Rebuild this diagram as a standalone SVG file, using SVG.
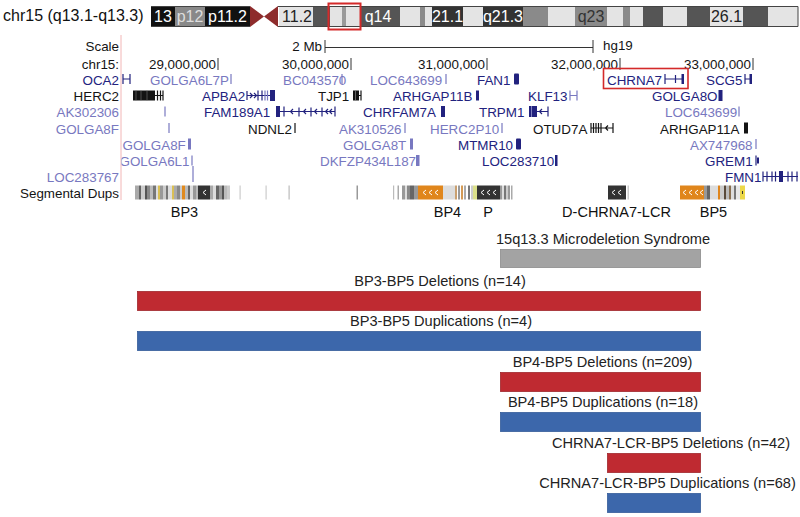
<svg xmlns="http://www.w3.org/2000/svg" width="800" height="517" viewBox="0 0 800 517">
<defs>
<style>
text{font-family:"Liberation Sans",Arial,Helvetica,sans-serif}
.ideo{font-size:16px}
.g{font-size:13.4px}
.dk{fill:#22227e}
.lt{fill:#7878c0}
.bk{fill:#141414}
.sdk{stroke:#22227e;fill:none;stroke-width:1.2}
.slt{stroke:#7878c0;fill:none;stroke-width:1.2}
.sbk{stroke:#141414;fill:none;stroke-width:1.2}
.lab{font-size:14.6px;fill:#222}
.bp{font-size:14.5px;fill:#111;text-anchor:middle}
.chev{stroke:#fff;fill:none;stroke-width:1}
.red{fill:#bf2a31;stroke:#a0272c;stroke-width:0.8}
.blue{fill:#3c67ab;stroke:#355c99;stroke-width:0.8}
.gray{fill:#a3a3a3;stroke:#8c8c8c;stroke-width:0.8}
</style>
<clipPath id="clipL"><rect x="121.5" y="150" width="100" height="20"/></clipPath>
</defs>
<rect width="800" height="517" fill="#fff"/>

<g id="ideogram">
<text x="3" y="21" class="ideo" fill="#111">chr15 (q13.1-q13.3)</text>
<rect x="151" y="6" width="24" height="21" fill="#111"/>
<rect x="175" y="6" width="30" height="21" fill="#898989"/>
<rect x="205" y="6" width="45" height="21" fill="#111"/>
<polygon points="250,6 264,16.5 250,27" fill="#8e2c2c"/>
<polygon points="278,6 264,16.5 278,27" fill="#8e2c2c"/>
<rect x="279" y="6" width="34" height="21" fill="#e4e4e4"/>
<rect x="313" y="6" width="17" height="21" fill="#555"/>
<rect x="330" y="6" width="30" height="21" fill="#e4e4e4"/>
<rect x="342" y="6" width="4" height="21" fill="#9a9a9a"/>
<rect x="360" y="6" width="40" height="21" fill="#555"/>
<rect x="400" y="6" width="20" height="21" fill="#e4e4e4"/>
<rect x="420" y="6" width="5" height="21" fill="#8a8a8a"/>
<rect x="425" y="6" width="7" height="21" fill="#e4e4e4"/>
<rect x="432" y="6" width="31" height="21" fill="#333"/>
<rect x="463" y="6" width="20" height="21" fill="#e4e4e4"/>
<rect x="483" y="6" width="40" height="21" fill="#333"/>
<rect x="523" y="6" width="25" height="21" fill="#8a8a8a"/>
<rect x="548" y="6" width="27" height="21" fill="#e4e4e4"/>
<rect x="575" y="6" width="32" height="21" fill="#8a8a8a"/>
<rect x="607" y="6" width="16" height="21" fill="#e4e4e4"/>
<rect x="623" y="6" width="7" height="21" fill="#8a8a8a"/>
<rect x="630" y="6" width="13" height="21" fill="#e4e4e4"/>
<rect x="643" y="6" width="20" height="21" fill="#555"/>
<rect x="663" y="6" width="24" height="21" fill="#e4e4e4"/>
<rect x="687" y="6" width="23" height="21" fill="#555"/>
<rect x="710" y="6" width="33" height="21" fill="#e4e4e4"/>
<rect x="743" y="6" width="25" height="21" fill="#555"/>
<rect x="768" y="6" width="30" height="21" fill="#e4e4e4"/>
<path d="M151,6.5H250 M278,6.5H798V26.5H278 M250,26.5H151Z" fill="none" stroke="#444" stroke-width="1"/>
<rect x="328.5" y="3.5" width="32" height="26" fill="none" stroke="#d42a2a" stroke-width="2"/>
<g class="ideo" text-anchor="middle">
<text x="163" y="21.5" fill="#fff">13</text>
<text x="190" y="21.5" fill="#ddd">p12</text>
<text x="227.5" y="21.5" fill="#fff">p11.2</text>
<text x="297" y="21.5" fill="#222">11.2</text>
<text x="378" y="21.5" fill="#fff">q14</text>
<text x="447.5" y="21.5" fill="#fff">21.1</text>
<text x="503" y="21.5" fill="#fff">q21.3</text>
<text x="591" y="21.5" fill="#333">q23</text>
<text x="726.5" y="21.5" fill="#222">26.1</text>
</g>
</g>

<g id="ruler">
<line x1="121" y1="35" x2="121" y2="200" stroke="#f2b6b6" stroke-width="1"/>
<g class="g bk" text-anchor="end">
<text x="119" y="51">Scale</text>
<text x="322" y="51">2 Mb</text>
<text x="119" y="69">chr15:</text>
<text x="216" y="69">29,000,000</text>
<text x="349" y="69">30,000,000</text>
<text x="485" y="69">31,000,000</text>
<text x="618" y="69">32,000,000</text>
<text x="751" y="69">33,000,000</text>
</g>
<text x="603" y="49.5" class="g bk">hg19</text>
<path d="M325,40V53 M325,47.5H593 M593,40V53 M218,58V70 M351,58V70 M487,58V70 M620,58V70 M753,58V70" stroke="#333" stroke-width="1" fill="none"/>
</g>

<g id="genes">
<g id="row1" class="g">
<text x="119" y="84.5" class="dk" text-anchor="end">OCA2</text>
<path d="M123,74V84M130,74V84M123,79H130" class="sdk" stroke-width="1.5"/>
<text x="150" y="84.5" class="lt">GOLGA6L7P</text>
<path d="M231,74V84" class="slt"/>
<text x="283" y="84.5" class="lt">BC043570</text>
<path d="M342,74V84" class="slt"/>
<text x="370" y="84.5" class="lt">LOC643699</text>
<path d="M446,74V84" class="slt"/>
<text x="477" y="84.5" class="dk">FAN1</text>
<rect x="514" y="73.5" width="5" height="11" rx="1" class="dk"/>
<rect x="603.5" y="68.5" width="84.5" height="20" fill="none" stroke="#d42a2a" stroke-width="1.6"/>
<text x="607" y="84.5" class="dk">CHRNA7</text>
<path d="M665,74V84M665,79H684M675.5,75V83" class="sdk"/>
<rect x="681.5" y="74" width="2.5" height="10" class="dk"/>
<text x="706" y="84.5" class="dk">SCG5</text>
<path d="M745,74V84M745,79H751" class="sdk"/>
<rect x="749.5" y="74" width="2.5" height="10" class="dk"/>
</g>
<g id="row2" class="g">
<text x="119" y="101" class="bk" text-anchor="end">HERC2</text>
<rect x="133" y="90.5" width="22" height="10" class="bk"/>
<path d="M136,90.5V100.5M141,90.5V100.5M147,90.5V100.5" stroke="#777" stroke-width="0.6"/>
<path d="M155,95.5H163M157.5,90.5V100.5M160.5,90.5V100.5M163,90.5V100.5" class="sbk"/>
<text x="202" y="101" class="dk">APBA2</text>
<path d="M247,95.5H271M247,91V100M258,90.5V100.5M262,90.5V100.5M250,93L252.5,95.5L250,98M254,93L256.5,95.5L254,98" class="sdk"/>
<path d="M265,90.5V100.5M267.5,90.5V100.5" class="slt"/>
<rect x="270" y="90" width="5" height="11" class="dk"/>
<text x="318" y="101" class="bk">TJP1</text>
<rect x="353" y="90.5" width="6" height="10" class="bk"/>
<path d="M355.5,90.5V100.5" stroke="#888" stroke-width="0.7"/>
<path d="M359,95.5H361M361,90.5V100.5" class="sbk"/>
<text x="393" y="101" class="dk">ARHGAP11B</text>
<rect x="476" y="90.5" width="3" height="10" class="dk"/>
<text x="528" y="101" class="dk">KLF13</text>
<path d="M570,90.5V100.5M577,90.5V100.5M570,95.5H577" class="slt"/>
<text x="652" y="101" class="dk">GOLGA8O</text>
<rect x="718.5" y="90" width="4" height="11" class="dk"/>
</g>
<g id="row3" class="g">
<text x="119" y="117" class="lt" text-anchor="end">AK302306</text>
<path d="M165,106.5V116.5" class="slt"/>
<text x="204" y="117" class="dk">FAM189A1</text>
<rect x="276" y="106" width="4" height="11" class="dk"/>
<path d="M280,111.5H335M284,106.5V116.5M299,107.5V116.5M311,107.5V116.5M322,107.5V116.5M335,106.5V116.5M293,109L290.5,111.5L293,114M306,109L303.5,111.5L306,114M317,109L314.5,111.5L317,114M328,109L325.5,111.5L328,114M332,109L329.5,111.5L332,114" class="sdk"/>
<text x="363" y="117" class="dk">CHRFAM7A</text>
<rect x="441" y="106" width="4" height="11" class="dk"/>
<text x="479" y="117" class="dk">TRPM1</text>
<rect x="529" y="106" width="8" height="11" class="dk"/>
<path d="M531.5,106V117" stroke="#9a9ad0" stroke-width="0.8"/>
<path d="M537,111.5H548M548,106.5V116.5M542,109L539.5,111.5L542,114" class="sdk"/>
<text x="665" y="117" class="lt">LOC643699</text>
<path d="M739,106.5V116.5" class="slt"/>
</g>
<g id="row4" class="g">
<text x="119" y="133.5" class="lt" text-anchor="end">GOLGA8F</text>
<path d="M169,123V133" class="slt" stroke-width="2"/>
<text x="248" y="133.5" class="bk">NDNL2</text>
<path d="M295,123V133" class="sbk"/>
<text x="339" y="133.5" class="lt">AK310526</text>
<path d="M405,123V133" class="slt"/>
<text x="430" y="133.5" class="lt">HERC2P10</text>
<path d="M502,123V133" class="slt" stroke-width="2"/>
<text x="533" y="133.5" class="bk">OTUD7A</text>
<path d="M591,123V133M593.5,123V133M596,123V133M598.5,123V133M601,123V133M591,128H613M613,123V133M608,125.5L605.5,128L608,130.5" class="sbk"/>
<text x="660" y="133.5" class="bk">ARHGAP11A</text>
<rect x="744" y="122.5" width="4" height="11" class="bk"/>
</g>
<g id="row5" class="g">
<text x="122.5" y="149.5" class="lt">GOLGA8F</text>
<rect x="188" y="138.5" width="3" height="11" class="lt"/>
<text x="343" y="149.5" class="lt">GOLGA8T</text>
<rect x="410" y="138.5" width="3" height="11" class="lt"/>
<text x="458" y="149.5" class="dk">MTMR10</text>
<rect x="516" y="138.5" width="5" height="11" rx="1" class="dk"/>
<text x="690" y="149.5" class="lt">AX747968</text>
<path d="M756,139V149" class="slt"/>
</g>
<g id="row6" class="g">
<text x="119.5" y="166" class="lt" clip-path="url(#clipL)">GOLGA6L1</text>
<path d="M192,155.5V165.5" class="slt" stroke-width="1.6"/>
<text x="320" y="166" class="lt">DKFZP434L187</text>
<rect x="416" y="155" width="3.5" height="11" class="lt"/>
<text x="482" y="166" class="dk">LOC283710</text>
<rect x="555" y="155" width="2.5" height="11" class="dk"/>
<text x="705" y="166" class="dk">GREM1</text>
<path d="M756,155.5V165.5" class="sdk"/>
<rect x="757" y="157.5" width="2" height="6" class="dk"/>
</g>
<g id="row7" class="g">
<text x="119" y="182" class="lt" text-anchor="end">LOC283767</text>
<path d="M193,166V182" class="slt" stroke-width="1"/>
<text x="725" y="182" class="dk">FMN1</text>
<path d="M763,171.5V181.5M767,171.5V181.5M763,176.5H798M772,171.5V181.5M775.5,171.5V181.5M788,171.5V181.5M792,171.5V181.5M797,171.5V181.5" class="sdk"/>
<rect x="779" y="171" width="4" height="11" class="dk"/>
</g>
</g>

<g id="segdups">
<text x="119" y="198" class="g bk" text-anchor="end">Segmental Dups</text>
<g>
<rect x="135" y="185.5" width="4" height="14" fill="#aaa"/>
<rect x="139" y="185.5" width="2" height="14" fill="#666"/>
<rect x="141" y="185.5" width="4" height="14" fill="#ccc"/>
<rect x="145" y="185.5" width="2" height="14" fill="#555"/>
<rect x="147" y="185.5" width="3" height="14" fill="#888"/>
<rect x="150" y="185.5" width="3" height="14" fill="#bbb"/>
<rect x="153" y="185.5" width="3" height="14" fill="#777"/>
<rect x="156" y="185.5" width="2" height="14" fill="#ddd"/>
<rect x="158" y="185.5" width="2" height="14" fill="#d9bf55"/>
<rect x="160" y="185.5" width="3" height="14" fill="#999"/>
<rect x="163" y="185.5" width="3" height="14" fill="#ccc"/>
<rect x="166" y="185.5" width="2" height="14" fill="#777"/>
<rect x="168" y="185.5" width="4" height="14" fill="#ddd"/>
<rect x="172" y="185.5" width="2" height="14" fill="#d9bf55"/>
<rect x="174" y="185.5" width="3" height="14" fill="#aaa"/>
<rect x="177" y="185.5" width="3" height="14" fill="#888"/>
<rect x="180" y="185.5" width="2" height="14" fill="#ccc"/>
<rect x="182" y="185.5" width="3" height="14" fill="#e08a1e"/>
<rect x="185" y="185.5" width="3" height="14" fill="#bbb"/>
<rect x="188" y="185.5" width="2" height="14" fill="#666"/>
<rect x="190" y="185.5" width="3" height="14" fill="#ddd"/>
<rect x="193" y="185.5" width="3" height="14" fill="#999"/>
<rect x="196" y="185.5" width="2" height="14" fill="#bbb"/>
<rect x="198" y="185.5" width="12" height="14" fill="#333"/>
<rect x="210" y="185.5" width="3" height="14" fill="#aaa"/>
<rect x="213" y="185.5" width="3" height="14" fill="#ddd"/>
<rect x="216" y="185.5" width="3" height="14" fill="#666"/>
<rect x="219" y="185.5" width="3" height="14" fill="#999"/>
<rect x="222" y="185.5" width="2" height="14" fill="#555"/>
<rect x="224" y="185.5" width="3" height="14" fill="#bbb"/>
<rect x="227" y="185.5" width="3" height="14" fill="#ccc"/>
<rect x="239.5" y="185.5" width="1.2" height="14" fill="#ccc"/>
<rect x="265.5" y="185.5" width="1.2" height="14" fill="#ccc"/>
<rect x="288.5" y="185.5" width="1.2" height="14" fill="#bbb"/>
<rect x="356.5" y="185.5" width="1.5" height="14" fill="#999"/>
<rect x="393" y="185.5" width="1.2" height="14" fill="#bbb"/>
<rect x="397.5" y="185.5" width="1.5" height="14" fill="#aaa"/>
<rect x="402" y="185.5" width="3" height="14" fill="#999"/>
<rect x="405" y="185.5" width="2" height="14" fill="#ddd"/>
<rect x="407" y="185.5" width="3" height="14" fill="#888"/>
<rect x="410" y="185.5" width="4" height="14" fill="#666"/>
<rect x="414" y="185.5" width="4" height="14" fill="#999"/>
<rect x="418" y="185.5" width="25" height="14" fill="#e0861c"/>
<rect x="443" y="185.5" width="12" height="14" fill="#ddd"/>
<rect x="455" y="185.5" width="2" height="14" fill="#c9a070"/>
<rect x="458" y="185.5" width="2" height="14" fill="#999"/>
<rect x="461" y="185.5" width="2" height="14" fill="#d49a55"/>
<rect x="464" y="185.5" width="2" height="14" fill="#aaa"/>
<rect x="468" y="185.5" width="2" height="14" fill="#777"/>
<rect x="471" y="185.5" width="2" height="14" fill="#ccc"/>
<rect x="473" y="185.5" width="4" height="14" fill="#dbe08a"/>
<rect x="477" y="185.5" width="23" height="14" fill="#333"/>
<rect x="500" y="185.5" width="2" height="14" fill="#999"/>
<rect x="502" y="185.5" width="2" height="14" fill="#ddd"/>
<rect x="504" y="185.5" width="2" height="14" fill="#777"/>
<rect x="506" y="185.5" width="2" height="14" fill="#ccc"/>
<rect x="508" y="185.5" width="2" height="14" fill="#999"/>
<rect x="511" y="185.5" width="1.5" height="14" fill="#aaa"/>
<rect x="608" y="185.5" width="18" height="14" fill="#333"/>
<rect x="627.5" y="185.5" width="1.5" height="14" fill="#ccc"/>
<rect x="680" y="185.5" width="24" height="14" fill="#e0861c"/>
<rect x="704" y="185.5" width="3" height="14" fill="#999"/>
<rect x="707" y="185.5" width="3" height="14" fill="#666"/>
<rect x="710" y="185.5" width="8" height="14" fill="#ddd"/>
<rect x="718" y="185.5" width="2" height="14" fill="#e0861c"/>
<rect x="720" y="185.5" width="4" height="14" fill="#ccc"/>
<rect x="724" y="185.5" width="2" height="14" fill="#5a4a3a"/>
<rect x="726" y="185.5" width="3" height="14" fill="#bbb"/>
<rect x="729" y="185.5" width="2" height="14" fill="#8a7050"/>
<rect x="731" y="185.5" width="3" height="14" fill="#ddd"/>
<rect x="734" y="185.5" width="2" height="14" fill="#777"/>
<rect x="736" y="185.5" width="4" height="14" fill="#e8e8e8"/>
<rect x="740" y="185.5" width="5" height="14" fill="#ecd84a"/>
<rect x="742" y="191" width="1" height="3" fill="#333"/>
</g>
<path class="chev" d="M206,190L203,192.5L206,195 M426,190L423,192.5L426,195 M432,190L429,192.5L432,195 M438,190L435,192.5L438,195 M484,190L481,192.5L484,195 M490,190L487,192.5L490,195 M496,190L493,192.5L496,195 M615,190L612,192.5L615,195 M621,190L618,192.5L621,195 M686,190L683,192.5L686,195 M692,190L689,192.5L692,195 M698,190L695,192.5L698,195 M703,190L700,192.5L703,195"/>
<text x="184.5" y="217" class="bp">BP3</text>
<text x="447.5" y="217" class="bp">BP4</text>
<text x="488" y="217" class="bp">P</text>
<text x="616.5" y="217" class="bp">D-CHRNA7-LCR</text>
<text x="713.5" y="217" class="bp">BP5</text>
</g>

<g id="bars" text-anchor="middle">
<g id="syndrome">
<text x="603" y="244" class="lab">15q13.3 Microdeletion Syndrome</text>
<rect x="500.5" y="249.5" width="200" height="18" class="gray"/>
</g>
<g id="bp3-bp5-del">
<text x="440" y="286" class="lab">BP3-BP5 Deletions (n=14)</text>
<rect x="137.5" y="291.5" width="563" height="19" class="red"/>
</g>
<g id="bp3-bp5-dup">
<text x="441" y="326" class="lab">BP3-BP5 Duplications (n=4)</text>
<rect x="137.5" y="331.5" width="563" height="19" class="blue"/>
</g>
<g id="bp4-bp5-del">
<text x="602.5" y="367" class="lab">BP4-BP5 Deletions (n=209)</text>
<rect x="500.5" y="372.5" width="200" height="19" class="red"/>
</g>
<g id="bp4-bp5-dup">
<text x="603" y="407" class="lab">BP4-BP5 Duplications (n=18)</text>
<rect x="500.5" y="412.5" width="200" height="19" class="blue"/>
</g>
<g id="chrna7-del">
<text x="671" y="448" class="lab">CHRNA7-LCR-BP5 Deletions (n=42)</text>
<rect x="607.5" y="453.5" width="93" height="19" class="red"/>
</g>
<g id="chrna7-dup">
<text x="667.5" y="488" class="lab">CHRNA7-LCR-BP5 Duplications (n=68)</text>
<rect x="607.5" y="493.5" width="93" height="19" class="blue"/>
</g>
</g>
</svg>
